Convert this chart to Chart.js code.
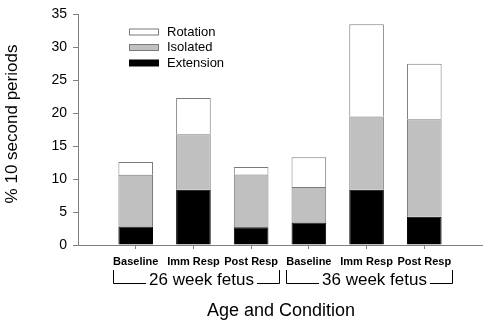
<!DOCTYPE html>
<html>
<head>
<meta charset="utf-8">
<script src="https://cdn.jsdelivr.net/npm/chart.js@4"></script>
<style>
html,body{margin:0;padding:0;background:#fff;}
canvas{display:block;}
</style>
</head>
<body>
<canvas id="c" width="490" height="324"></canvas>
<script>
const categories = ['Baseline', 'Imm Resp', 'Post Resp', 'Baseline', 'Imm Resp', 'Post Resp'];
const groupLabels = ['26 week fetus', '36 week fetus'];
const groupRanges = [[1, 3], [4, 6]];
const seriesNames = ['Extension', 'Isolated', 'Rotation'];
const extension = [2.8, 8.4, 2.7, 3.4, 8.4, 4.3];
const isolated = [7.85, 8.4, 8.0, 5.4, 11.1, 14.8];
const rotation = [1.95, 5.5, 1.15, 4.5, 14.0, 8.4];
const yTicks = [0, 5, 10, 15, 20, 25, 30, 35];
const yTitle = '% 10 second periods';
const xTitle = 'Age and Condition';

const FONT = "Arial, 'Liberation Sans', sans-serif";
const AXIS = '#7f7f7f';

function pts(arr) { return arr.map((v, i) => ({ x: i + 1, y: v })); }

const datasets = [
  { label: seriesNames[0], data: pts(extension), backgroundColor: '#000000', borderColor: '#000000' },
  { label: seriesNames[1], data: pts(isolated), backgroundColor: '#c0c0c0', borderColor: '#7a7a7a' },
  { label: seriesNames[2], data: pts(rotation), backgroundColor: '#ffffff', borderColor: '#7a7a7a' }
].map(d => Object.assign(d, { borderWidth: 1, barPercentage: 0.6, categoryPercentage: 1 }));

const decor = {
  id: 'decor',
  afterDraw(chart) {
    const ctx = chart.ctx;
    const xs = chart.scales.x;
    ctx.save();
    // legend (top to bottom: Rotation, Isolated, Extension)
    const legendOrder = [2, 1, 0];
    legendOrder.forEach((di, row) => {
      const ds = chart.data.datasets[di];
      const cy = 32 + row * 15.5;
      ctx.fillStyle = ds.backgroundColor;
      ctx.fillRect(129.5, cy - 3, 29, 6);
      ctx.strokeStyle = ds.borderColor;
      ctx.lineWidth = 1;
      ctx.strokeRect(129.5, cy - 3, 29, 6);
      ctx.fillStyle = '#000';
      ctx.font = '13px ' + FONT;
      ctx.textAlign = 'left';
      ctx.textBaseline = 'middle';
      ctx.fillText(ds.label, 167, cy);
    });
    // group brackets
    ctx.font = '17px ' + FONT;
    ctx.strokeStyle = '#000';
    ctx.lineWidth = 1;
    groupRanges.forEach((r, gi) => {
      const x0 = Math.round(xs.getPixelForValue(r[0] - 0.4)) + 0.5;
      const x1 = Math.round(xs.getPixelForValue(r[1] + 0.48)) + 0.5;
      const yTop = 270, yBot = 283.5;
      const label = groupLabels[gi];
      const tw = ctx.measureText(label).width;
      const cx = (x0 + x1) / 2 + 5;
      ctx.beginPath();
      ctx.moveTo(x0, yTop); ctx.lineTo(x0, yBot); ctx.lineTo(cx - tw / 2 - 3, yBot);
      ctx.moveTo(cx + tw / 2 + 3, yBot); ctx.lineTo(x1, yBot); ctx.lineTo(x1, yTop);
      ctx.stroke();
      ctx.fillStyle = '#000';
      ctx.textAlign = 'center';
      ctx.textBaseline = 'alphabetic';
      ctx.fillText(label, cx, 285);
    });
    // x title
    ctx.font = '18px ' + FONT;
    ctx.textAlign = 'center';
    ctx.textBaseline = 'alphabetic';
    ctx.fillText(xTitle, 281, 316);
    // y title
    ctx.translate(17, 124);
    ctx.rotate(-Math.PI / 2);
    ctx.font = '17px ' + FONT;
    ctx.textAlign = 'center';
    ctx.textBaseline = 'middle';
    ctx.fillText(yTitle, 0, -5);
    ctx.restore();
  }
};

new Chart(document.getElementById('c'), {
  type: 'bar',
  data: { datasets },
  options: {
    responsive: false,
    devicePixelRatio: 1,
    animation: false,
    layout: { padding: { top: 7, right: 8, left: 0, bottom: 0 } },
    plugins: { legend: { display: false }, tooltip: { enabled: false } },
    scales: {
      x: {
        type: 'linear', stacked: true, min: 0, max: 7, offset: false,
        afterBuildTicks(scale) { scale.ticks = categories.map((c, i) => ({ value: i + 1 })); },
        afterFit(scale) { scale.height = 79; },
        ticks: {
          autoSkip: false, maxRotation: 0, padding: 6, color: '#000',
          font: { family: FONT, size: 11, weight: 'bold' },
          callback: (v) => categories[Math.round(v) - 1]
        },
        grid: { drawOnChartArea: false, tickLength: 4, color: AXIS, offset: false },
        border: { color: AXIS, width: 1 }
      },
      y: {
        stacked: true, min: yTicks[0], max: yTicks[yTicks.length - 1],
        afterBuildTicks(scale) { scale.ticks = yTicks.map(v => ({ value: v })); },
        afterFit(scale) { scale.width = 78; },
        ticks: { padding: 6, color: '#000', font: { family: FONT, size: 14 } },
        grid: { drawOnChartArea: false, tickLength: 5, color: AXIS },
        border: { color: AXIS, width: 1 }
      }
    }
  },
  plugins: [decor]
});
</script>
</body>
</html>
